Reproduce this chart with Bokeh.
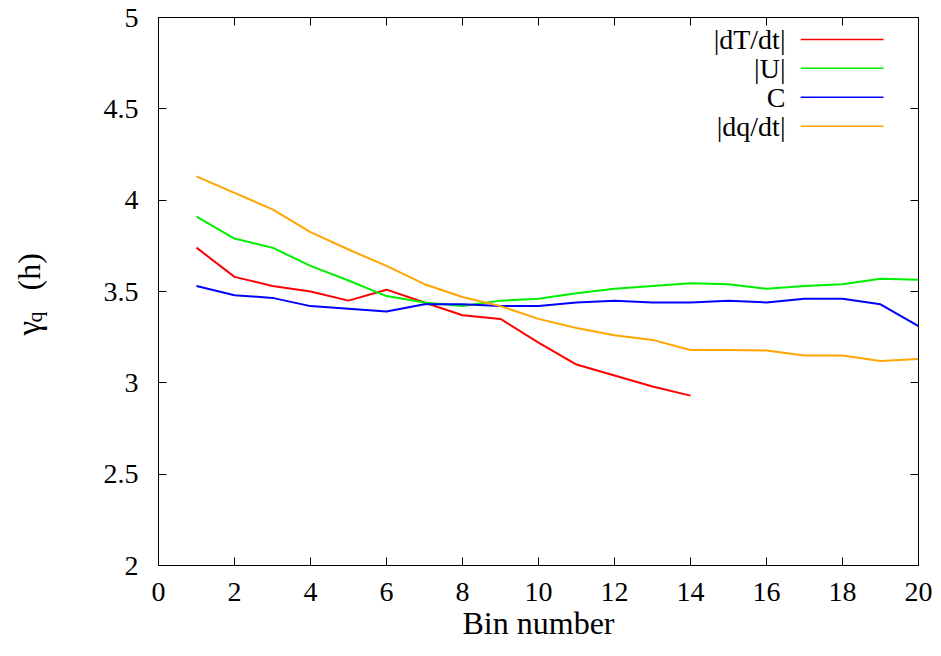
from bokeh.plotting import figure
from bokeh.models import Range1d, FixedTicker, LinearAxis, Label, Title, CustomJSTickFormatter
from bokeh.embed import file_html
from bokeh.resources import INLINE

# ---- data ----
bins_dTdt = list(range(1, 15))
dTdt = [3.74, 3.58, 3.53, 3.50, 3.45, 3.51, 3.44, 3.37, 3.35, 3.22, 3.10, 3.04, 2.98, 2.93]

bins = list(range(1, 21))
U = [3.91, 3.79, 3.74, 3.64, 3.56, 3.475, 3.44, 3.42, 3.45, 3.46,
     3.49, 3.515, 3.53, 3.545, 3.54, 3.515, 3.53, 3.54, 3.57, 3.565]
C = [3.53, 3.48, 3.465, 3.42, 3.405, 3.39, 3.43, 3.43, 3.42, 3.42,
     3.44, 3.45, 3.44, 3.44, 3.45, 3.44, 3.46, 3.46, 3.43, 3.31]
dqdt = [4.13, 4.04, 3.95, 3.825, 3.73, 3.64, 3.54, 3.47, 3.42, 3.35,
        3.30, 3.26, 3.235, 3.18, 3.18, 3.177, 3.15, 3.15, 3.12, 3.13]

series_names = ["|dT/dt|", "|U|", "C", "|dq/dt|"]
series_colors = ["#ff0000", "#00ee00", "#0000ff", "#ffa500"]

x_ticks = [0, 2, 4, 6, 8, 10, 12, 14, 16, 18, 20]
y_ticks = [2, 2.5, 3, 3.5, 4, 4.5, 5]
y_tick_labels = ["2", "2.5", "3", "3.5", "4", "4.5", "5"]
x_label = "Bin number"
y_label_parts = ["γ", "q", "(h)"]          # symbol, subscript, unit

FONT = "Liberation Serif"

p = figure(width=933, height=648, output_backend="svg", toolbar_location=None,
           x_range=Range1d(0, 20), y_range=Range1d(2, 5),
           min_border_left=158, min_border_right=15, min_border_top=17, min_border_bottom=83)
p.xgrid.visible = False
p.ygrid.visible = False
p.outline_line_color = "black"
p.outline_line_width = 1
p.background_fill_color = "white"
p.border_fill_color = "white"

def style_axis(ax, ticks):
    ax.ticker = FixedTicker(ticks=ticks)
    ax.major_tick_in = 8
    ax.major_tick_out = 0
    ax.minor_tick_in = 0
    ax.minor_tick_out = 0
    ax.axis_line_color = "black"
    ax.major_tick_line_color = "black"
    ax.major_label_text_font = FONT
    ax.major_label_text_font_size = "28px"
    ax.major_label_text_color = "black"

style_axis(p.xaxis[0], x_ticks)
p.xaxis[0].major_label_standoff = 17
p.xaxis[0].axis_label = x_label
p.xaxis[0].axis_label_text_font = FONT
p.xaxis[0].axis_label_text_font_size = "32px"
p.xaxis[0].axis_label_text_font_style = "normal"
p.xaxis[0].axis_label_text_color = "black"
p.xaxis[0].axis_label_standoff = 1

style_axis(p.yaxis[0], y_ticks)
p.yaxis[0].major_label_standoff = 20
p.yaxis[0].major_label_overrides = {t: l for t, l in zip(y_ticks, y_tick_labels)}
# invisible spacer label that pushes the y title out to where the reference has it
p.yaxis[0].axis_label = "\u00a0"
p.yaxis[0].axis_label_text_font_size = "10px"
p.yaxis[0].axis_label_standoff = 60

blank = CustomJSTickFormatter(code="return ''")
for loc, ticks in (("above", x_ticks), ("right", y_ticks)):
    ax = LinearAxis(formatter=blank)
    style_axis(ax, ticks)
    ax.major_label_text_font_size = "1px"
    ax.major_label_standoff = 0
    p.add_layout(ax, loc)

# ---- y axis title: gamma_q (h), rotated, in the left border ----
# (collapsed side panels so the three pieces share one column)
for txt, size, off in ((y_label_parts[1], "22px", 243),
                       (y_label_parts[0], "33px", 230),
                       (y_label_parts[2], "32px", 275)):
    p.add_layout(Title(text=txt, text_font=FONT, text_font_size=size,
                       text_font_style="normal", text_color="black",
                       align="left", vertical_align="bottom",
                       offset=off, standoff=-40), "left")

# ---- data lines ----
p.line(bins_dTdt, dTdt, line_color=series_colors[0], line_width=2)
p.line(bins, U, line_color=series_colors[1], line_width=2)
p.line(bins, C, line_color=series_colors[2], line_width=2)
p.line(bins, dqdt, line_color=series_colors[3], line_width=2)

# ---- legend (label left of sample line, gnuplot style) ----
leg_text_x = 16.5
leg_x0, leg_x1 = 16.9, 19.08
leg_y0, leg_dy = 4.88, 0.1585
for i, (name, col) in enumerate(zip(series_names, series_colors)):
    yy = leg_y0 - i * leg_dy
    p.add_layout(Label(x=leg_text_x, y=yy, text=name, text_font=FONT,
                       text_font_size="28px", text_align="right",
                       text_baseline="middle", text_color="black"))
    p.segment(x0=[leg_x0], y0=[yy], x1=[leg_x1], y1=[yy], line_color=col, line_width=1.5)

open("out.html", "w").write(file_html(p, INLINE))
